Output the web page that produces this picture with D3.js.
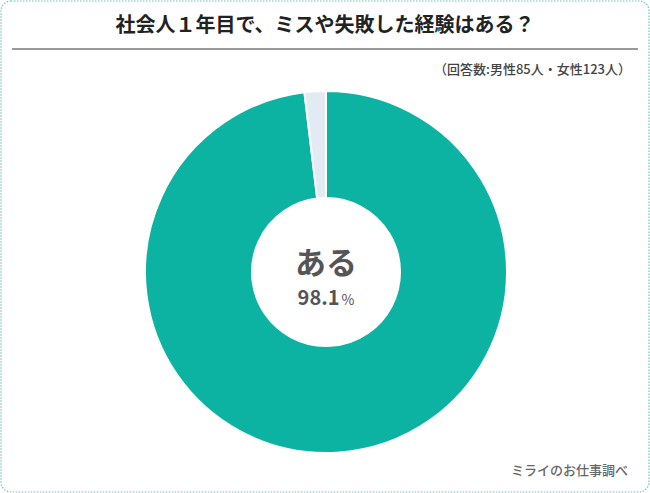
<!DOCTYPE html>
<html><head><meta charset="utf-8">
<script src="https://cdn.jsdelivr.net/npm/d3@7"></script>
<style>html,body{margin:0;padding:0;background:#fff;}svg{display:block;font-family:"Noto Sans CJK JP","Noto Sans",sans-serif;}</style>
</head><body>
<svg id="c" width="650" height="493"></svg>
<script>
const categories = ["ある", "ない"];
const values = [98.1, 1.9];
const colors = ["#0db3a2", "#e2ebf3"];
const title = "社会人１年目で、ミスや失敗した経験はある？";
const subtitle = "（回答数:男性85人・女性123人）";
const source = "ミライのお仕事調べ";

const svg = d3.select("#c");
svg.append("rect").attr("x",1).attr("y",1).attr("width",648).attr("height",491)
  .attr("rx",10).attr("fill","#fff").attr("stroke","#6cc6bd").attr("stroke-width",1.2)
  .attr("stroke-dasharray","1.5,1.5");

svg.append("text").attr("x",325).attr("y",32).attr("text-anchor","middle")
  .attr("font-size",20).attr("font-weight","bold").attr("fill","#222").text(title);
svg.append("line").attr("x1",12).attr("x2",638).attr("y1",49).attr("y2",49)
  .attr("stroke","#777").attr("stroke-width",1.5);
svg.append("text").attr("x",631).attr("y",74).attr("text-anchor","end")
  .attr("font-size",13).attr("font-weight",500).attr("fill","#444").text(subtitle);

const cx = 326, cy = 272, R = 181, r = 74;
const pie = d3.pie().sort(null).value(d => d)(values);
const arc = d3.arc().innerRadius(r).outerRadius(R);
const g = svg.append("g").attr("transform",`translate(${cx},${cy})`);
g.selectAll("path").data(pie).join("path").attr("d",arc)
  .attr("fill",(d,i)=>colors[i]).attr("stroke","#fff").attr("stroke-width",2);

g.append("text").attr("y",2).attr("text-anchor","middle").attr("font-size",31)
  .attr("font-weight","bold").attr("fill","#555").text(categories[0]);
const t = g.append("text").attr("y",33).attr("text-anchor","middle").attr("fill","#555").attr("font-weight","bold");
t.append("tspan").attr("font-size",20).text(values[0].toFixed(1));
t.append("tspan").attr("font-size",14).attr("font-weight","normal").attr("dx",2).text("%");

svg.append("text").attr("x",628).attr("y",475).attr("text-anchor","end")
  .attr("font-size",13).attr("font-weight",500).attr("fill","#666").text(source);
</script>
</body></html>
